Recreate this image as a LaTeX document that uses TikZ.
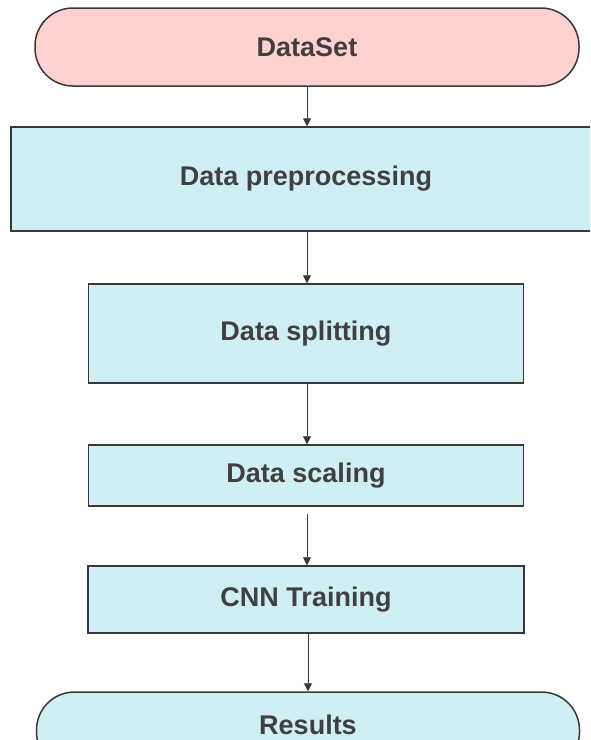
\documentclass[tikz,border=0pt]{standalone}
\usepackage{fontspec}
\setmainfont{Liberation Sans}
\usetikzlibrary{arrows.meta}
\definecolor{pinkfill}{HTML}{FFD1D1}
\definecolor{cyanfill}{HTML}{D0EFF4}
\definecolor{edge}{HTML}{383838}
\definecolor{txt}{HTML}{404040}
\begin{document}
\begin{tikzpicture}[x=1pt,y=1pt,
  box/.style={draw=edge, line width=1.5pt, fill=cyanfill, text=txt,
    font=\fontsize{27}{32}\selectfont\bfseries, inner sep=0pt, anchor=center},
  pill/.style={box, rounded corners=38pt},
  conn/.style={draw=edge, line width=0.9pt, -{Triangle[length=8pt,width=8pt]}}]
\useasboundingbox (0,0) rectangle (590,-740);
\clip (0,0) rectangle (590,-740);
\node[pill, fill=pinkfill, minimum width=544pt, minimum height=78pt] (ds) at (307,-47) {DataSet};
\node[box, minimum width=590pt, minimum height=104pt] (pre) at (306,-179) {Data preprocessing};
\node[box, minimum width=435pt, minimum height=99pt] (split) at (306,-333.5) {Data splitting};
\node[box, minimum width=435pt, minimum height=61pt] (scale) at (306,-475.5) {Data scaling};
\node[box, minimum width=436pt, minimum height=67pt] (cnn) at (306,-599.5) {CNN Training};
\node[pill, minimum width=543pt, minimum height=78pt, text height=19pt, text depth=13pt] (res) at (308,-731) {Results};
\draw[conn] (ds.south -| 307,0) -- (pre.north -| 307,0);
\draw[conn] (pre.south -| 307,0) -- (split.north -| 307,0);
\draw[conn] (split.south -| 307,0) -- (scale.north -| 307,0);
\draw[conn, shorten <=7pt] (scale.south -| 307,0) -- (cnn.north -| 307,0);
\draw[conn] (cnn.south -| 308,0) -- (res.north -| 308,0);
\end{tikzpicture}
\end{document}
